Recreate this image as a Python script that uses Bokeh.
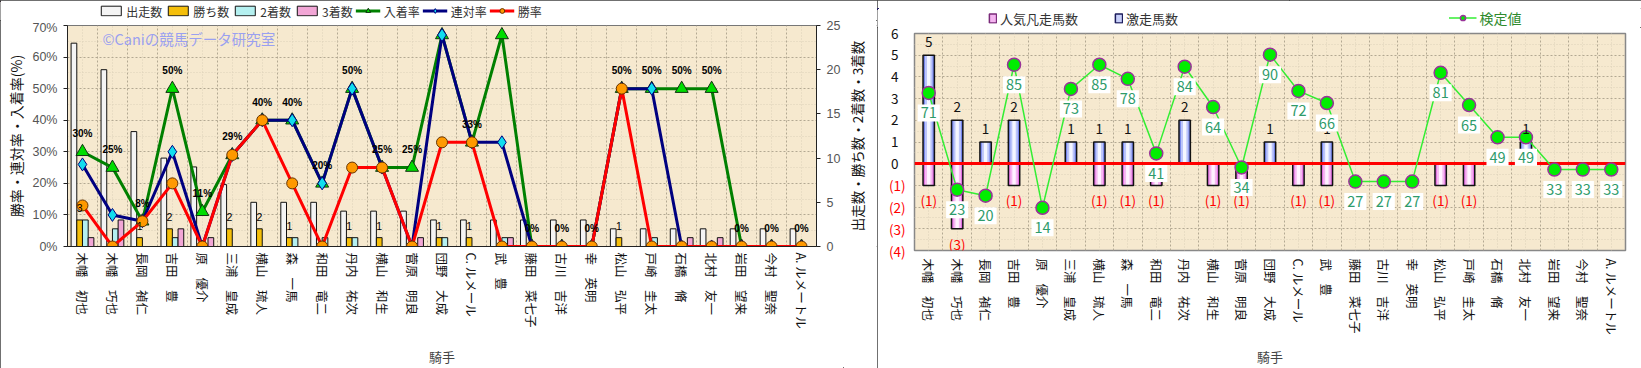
from math import pi
from bokeh.plotting import figure
from bokeh.models import (ColumnDataSource, Range1d, LinearAxis, FixedTicker, Legend, LegendItem,
                          LabelSet, Label, PrintfTickFormatter)
from bokeh.layouts import row, column
from bokeh.transform import dodge
from bokeh.core.properties import value
from bokeh.embed import file_html
from bokeh.resources import INLINE

# ---------------- data ----------------
jockeys = ["木幡\u3000初也", "木幡\u3000巧也", "長岡\u3000禎仁", "吉田\u3000豊", "原\u3000優介",
           "三浦\u3000皇成", "横山\u3000琉人", "森\u3000一馬", "和田\u3000竜二", "丹内\u3000祐次",
           "横山\u3000和生", "菅原\u3000明良", "団野\u3000大成", "C. ルメール", "武\u3000豊",
           "藤田\u3000菜七子", "古川\u3000吉洋", "幸\u3000英明", "松山\u3000弘平", "戸崎\u3000圭太",
           "石橋\u3000脩", "北村\u3000友一", "岩田\u3000望来", "今村\u3000聖奈", "A. ルメートル"]
starts = [23, 20, 13, 10, 9, 7, 5, 5, 5, 4, 4, 4, 3, 3, 3, 3, 3, 3, 2, 2, 2, 2, 2, 2, 2]
wins = [3, 0, 1, 2, 0, 2, 2, 1, 0, 1, 1, 0, 1, 1, 0, 0, 0, 0, 1, 0, 0, 0, 0, 0, 0]
seconds = [3, 2, 0, 1, 0, 0, 0, 1, 1, 1, 0, 0, 1, 0, 1, 0, 0, 0, 0, 1, 0, 0, 0, 0, 0]
thirds = [1, 3, 0, 2, 1, 0, 0, 0, 0, 0, 0, 1, 0, 0, 1, 0, 0, 0, 0, 0, 1, 1, 0, 0, 0]
win_rate = [13, 0, 8, 20, 0, 29, 40, 20, 0, 25, 25, 0, 33, 33, 0, 0, 0, 0, 50, 0, 0, 0, 0, 0, 0]
rentai_rate = [26, 10, 8, 30, 0, 29, 40, 40, 20, 50, 25, 0, 67, 33, 33, 0, 0, 0, 50, 50, 0, 0, 0, 0, 0]
place_rate = [30, 25, 8, 50, 11, 29, 40, 40, 20, 50, 25, 25, 67, 33, 67, 0, 0, 0, 50, 50, 50, 50, 0, 0, 0]

gekisou = [5, 2, 1, 2, 0, 1, 1, 1, 0, 2, 0, 0, 1, 0, 1, 0, 0, 0, 0, 0, 0, 1, 0, 0, 0]   # 激走馬数
bonsou = [1, 3, 0, 1, 0, 0, 1, 1, 1, 0, 1, 1, 0, 1, 1, 0, 0, 0, 1, 1, 0, 0, 0, 0, 0]    # 人気凡走馬数
kentei = [71, 23, 20, 85, 14, 73, 85, 78, 41, 84, 64, 34, 90, 72, 66, 27, 27, 27, 81, 65, 49, 49, 33, 33, 33]

pct_ticks = [0, 10, 20, 30, 40, 50, 60, 70]
cnt_ticks = [0, 5, 10, 15, 20, 25]
pos_ticks = [6, 5, 4, 3, 2, 1, 0]
pos_tick_labels = ["6", "5", "4", "3", "2", "1", "0"]
neg_ticks = [-1, -2, -3, -4]
neg_tick_labels = ["(1)", "(2)", "(3)", "(4)"]

# ---------------- common ----------------
JP = "Noto Sans CJK JP"
n = len(jockeys)
xs = list(range(1, n + 1))
name_map = {x: j for x, j in zip(xs, jockeys)}
BG = "#F6E9CF"
GRID = "#B3A892"
MINOR = "#DCD0B8"

ST = dict(fill_color="#F4F4F4", line_color="#111111", line_width=1)
WN = dict(fill_color="#F5BF0A", line_color="#111111", line_width=1)
SC = dict(fill_color="#B4F0F0", line_color="#111111", line_width=1)
TH = dict(fill_color="#F2A6D6", line_color="#111111", line_width=1)
PL_L = dict(line_color="#008000", line_width=3)
PL_M = dict(marker="triangle", fill_color="#00DD00", line_color="#113311", line_width=1)
RT_L = dict(line_color="#000080", line_width=3)
RT_M = dict(marker="diamond", fill_color="#11DDEE", line_color="#000080", line_width=1)
WR_L = dict(line_color="#FF0000", line_width=3)
WR_M = dict(marker="circle", fill_color="#FF9900", line_color="#663300", line_width=1)
K_L = dict(line_color="#33EE33", line_width=1.5)
K_M = dict(marker="circle", fill_color="#00EE00", line_color="#993399", line_width=1.5)


def style_grid(p, xt, yt, xm, ym):
    p.xgrid.ticker = FixedTicker(ticks=xt, minor_ticks=xm)
    p.ygrid.ticker = FixedTicker(ticks=yt, minor_ticks=ym)
    for g in (p.xgrid, p.ygrid):
        g.grid_line_color = GRID
        g.grid_line_dash = "2 2"
        g.grid_line_width = 1
        g.minor_grid_line_color = MINOR
        g.minor_grid_line_dash = "1 2"


def style_xaxis(ax, label_standoff, axis_label_standoff):
    ax.ticker = FixedTicker(ticks=xs)
    ax.major_label_overrides = name_map
    ax.major_label_orientation = "vertical"
    ax.major_label_text_font = JP
    ax.major_label_text_font_size = "12.5px"
    ax.major_label_text_color = "#111111"
    ax.major_tick_line_color = None
    ax.major_tick_out = 0
    ax.major_tick_in = 0
    ax.minor_tick_line_color = None
    ax.minor_tick_out = 0
    ax.major_label_standoff = label_standoff
    ax.axis_label = "騎手"
    ax.axis_label_text_font = JP
    ax.axis_label_text_font_size = "13px"
    ax.axis_label_text_font_style = "normal"
    ax.axis_label_text_color = "#444444"
    ax.axis_label_standoff = axis_label_standoff


def style_yaxis(ax):
    ax.major_label_text_font = "Liberation Sans"
    ax.major_label_text_font_size = "12.5px"
    ax.major_label_text_color = "#555555"
    ax.axis_line_color = "#222222"
    ax.major_tick_line_color = "#222222"
    ax.major_tick_out = 4
    ax.major_tick_in = 0
    ax.minor_tick_line_color = None
    ax.minor_tick_out = 0
    ax.major_label_standoff = 6


def strip(width, height, left=0, right=0, top=0, bottom=0):
    # plain white strip holding legends / titles outside the plot frames;
    # its ranges lie far away from the data so only legend keys are drawn
    return figure(width=width, height=height, x_range=Range1d(100, 101),
                  y_range=Range1d(-100, -99), x_axis_type=None, y_axis_type=None,
                  output_backend="svg", toolbar_location=None, min_border_left=left,
                  min_border_right=right, min_border_top=top, min_border_bottom=bottom,
                  outline_line_color=None, background_fill_color="white",
                  border_fill_color="white")


def make_legend(items, font_size, color, spacing, gw, gh):
    return Legend(items=items, orientation="horizontal", location="center", glyph_width=gw,
                  glyph_height=gh, label_height=gh, label_standoff=3, spacing=spacing,
                  padding=0, margin=0, border_line_alpha=0, background_fill_alpha=0,
                  label_text_font=JP, label_text_font_size=font_size, label_text_color=color)


# ================= left chart =================
src = ColumnDataSource(dict(x=xs, starts=starts, wins=wins, seconds=seconds, thirds=thirds,
                            win=win_rate, rentai=rentai_rate, place=place_rate,
                            place_txt=[f"{v}%" for v in place_rate]))
wsrc = ColumnDataSource(dict(x=[x for x, w in zip(xs, wins) if w > 0],
                             wins=[w for w in wins if w > 0],
                             txt=[str(w) for w in wins if w > 0]))

p1 = figure(width=843, height=348, x_range=Range1d(0.5, n + 0.5), y_range=Range1d(0, 70),
            output_backend="svg", toolbar_location=None,
            min_border_left=67, min_border_right=26, min_border_top=5, min_border_bottom=122,
            background_fill_color=BG, border_fill_color="white", outline_line_color="#777777")
p1.extra_y_ranges = {"cnt": Range1d(0, 25)}
style_grid(p1, [i + 0.5 for i in range(n + 1)], pct_ticks, xs, [5, 15, 25, 35, 45, 55, 65])

style_xaxis(p1.xaxis[0], 6, 15)
p1.xaxis.axis_line_color = "#222222"

ya = p1.yaxis[0]
ya.ticker = FixedTicker(ticks=pct_ticks)
ya.formatter = PrintfTickFormatter(format="%d%%")
style_yaxis(ya)
ya.axis_label = "勝率・連対率・入着率(%)"
ya.axis_label_text_font = JP
ya.axis_label_text_font_size = "14px"
ya.axis_label_text_font_style = "normal"
ya.axis_label_text_color = "#111111"
ya.axis_label_standoff = 3

ax_r = LinearAxis(y_range_name="cnt", ticker=FixedTicker(ticks=cnt_ticks))
style_yaxis(ax_r)
p1.add_layout(ax_r, "right")

bw = 0.19
p1.vbar(x=dodge("x", -0.285, range=p1.x_range), top="starts", width=bw, source=src,
        y_range_name="cnt", **ST)
p1.vbar(x=dodge("x", -0.095, range=p1.x_range), top="wins", width=bw, source=src,
        y_range_name="cnt", **WN)
p1.vbar(x=dodge("x", 0.095, range=p1.x_range), top="seconds", width=bw, source=src,
        y_range_name="cnt", **SC)
p1.vbar(x=dodge("x", 0.285, range=p1.x_range), top="thirds", width=bw, source=src,
        y_range_name="cnt", **TH)

p1.line("x", "place", source=src, **PL_L)
p1.scatter("x", "place", source=src, size=13, **PL_M)
p1.line("x", "rentai", source=src, **RT_L)
p1.scatter("x", "rentai", source=src, size=13, **RT_M)
p1.line("x", "win", source=src, **WR_L)
p1.scatter("x", "win", source=src, size=11, **WR_M)

p1.add_layout(LabelSet(x="x", y="place", text="place_txt", source=src, y_offset=18,
                       text_align="center", text_baseline="middle",
                       text_font=value("Liberation Sans"),
                       text_font_size="10px", text_font_style="bold", text_color="#000000"))
p1.add_layout(LabelSet(x=dodge("x", -0.095, range=p1.x_range), y="wins", text="txt", source=wsrc,
                       y_range_name="cnt", y_offset=12, text_align="center", text_baseline="middle",
                       text_font=value("Liberation Sans"), text_font_size="10.5px",
                       text_color="#000000"))

p1.add_layout(Label(x=35, y=208, x_units="screen", y_units="screen",
                    text="©Caniの競馬データ研究室", text_font=JP, text_font_size="14.5px",
                    text_color="#9AA0F0", text_baseline="middle"))

# right-hand axis title (a left-axis label of a narrow strip, so it reads bottom to top)
ls1 = strip(34, 348, left=3, top=5, bottom=122)
t_ax = LinearAxis(ticker=FixedTicker(ticks=[]), axis_line_color=None,
                  major_tick_line_color=None, minor_tick_line_color=None,
                  major_tick_out=0, minor_tick_out=0, major_label_standoff=0)
t_ax.axis_label = "出走数・勝ち数・2着数・3着数"
t_ax.axis_label_text_font = JP
t_ax.axis_label_text_font_size = "13.5px"
t_ax.axis_label_text_font_style = "normal"
t_ax.axis_label_text_color = "#111111"
t_ax.axis_label_standoff = 0
ls1.add_layout(t_ax, "left")

# legend strip (keys reuse the real data, kept outside the strip's visible range)
lf1 = strip(877, 20, right=237, top=1)
k_st = lf1.vbar(x="x", top="starts", width=0.1, source=src, **ST)
k_wn = lf1.vbar(x="x", top="wins", width=0.1, source=src, **WN)
k_sc = lf1.vbar(x="x", top="seconds", width=0.1, source=src, **SC)
k_th = lf1.vbar(x="x", top="thirds", width=0.1, source=src, **TH)
k_pl = [lf1.line("x", "place", source=src, **PL_L), lf1.scatter("x", "place", source=src, size=9, **PL_M)]
k_rt = [lf1.line("x", "rentai", source=src, **RT_L), lf1.scatter("x", "rentai", source=src, size=9, **RT_M)]
k_wr = [lf1.line("x", "win", source=src, **WR_L), lf1.scatter("x", "win", source=src, size=9, **WR_M)]
lf1.add_layout(make_legend([
    LegendItem(label="出走数", renderers=[k_st]),
    LegendItem(label="勝ち数", renderers=[k_wn]),
    LegendItem(label="2着数", renderers=[k_sc]),
    LegendItem(label="3着数", renderers=[k_th]),
    LegendItem(label="入着率", renderers=k_pl),
    LegendItem(label="連対率", renderers=k_rt),
    LegendItem(label="勝率", renderers=k_wr),
], "12px", "#333333", 3, 25, 12))

# ================= right chart =================
neg = [-v for v in bonsou]
rsrc = ColumnDataSource(dict(x=xs, gek=gekisou, neg=neg, kentei=kentei))
gsrc = ColumnDataSource(dict(x=[x for x, g in zip(xs, gekisou) if g > 0],
                             g=[g for g in gekisou if g > 0],
                             txt=[str(g) for g in gekisou if g > 0]))
bsrc = ColumnDataSource(dict(x=[x for x, b in zip(xs, bonsou) if b > 0],
                             b=[-b for b in bonsou if b > 0],
                             txt=[f"({b})" for b in bonsou if b > 0]))

p2 = figure(width=764, height=341, x_range=Range1d(0.5, n + 0.5), y_range=Range1d(-4, 6),
            output_backend="svg", toolbar_location=None,
            min_border_left=37, min_border_right=16, min_border_top=6, min_border_bottom=118,
            background_fill_color=BG, border_fill_color="white", outline_line_color="#888888",
            outline_line_width=1.5)
p2.extra_y_ranges = {"score": Range1d(-7.2, 100.5)}
p2.yaxis.visible = False
style_grid(p2, [i + 0.5 for i in range(n + 1)], pos_ticks + neg_ticks, xs,
           [5.5, 4.5, 3.5, 2.5, 1.5, 0.5, -0.5, -1.5, -2.5, -3.5])
style_xaxis(p2.xaxis[0], 8, 9)
p2.xaxis.axis_line_color = None

# negative ticks (red) nearest the frame, positive ticks (black) pulled back over them
for ticks, labels, color, standoff in ((neg_ticks, neg_tick_labels, "#FF0000", 9),
                                       (pos_ticks, pos_tick_labels, "#111111", -13)):
    ax = LinearAxis(ticker=FixedTicker(ticks=ticks),
                    major_label_overrides={t: s for t, s in zip(ticks, labels)})
    ax.major_label_text_font = JP
    ax.major_label_text_font_size = "13.5px"
    ax.major_label_text_color = color
    ax.axis_line_color = None
    ax.major_tick_line_color = None
    ax.minor_tick_line_color = None
    ax.major_tick_out = 0
    ax.major_tick_in = 0
    ax.minor_tick_out = 0
    ax.major_label_standoff = standoff
    p2.add_layout(ax, "left")

PK = [dict(fill_color="#E070E0"), dict(fill_color="#F6B8F2"), dict(fill_color="#FFF2FF")]
BL = [dict(fill_color="#7585EC"), dict(fill_color="#BCC5FA"), dict(fill_color="#F4F6FF")]
bw2 = 0.4
for frac, st in zip((1.0, 0.66, 0.3), PK):
    p2.vbar(x="x", top=0, bottom="neg", width=bw2 * frac, source=rsrc, line_color=None, **st)
p2.vbar(x="x", top=0, bottom="neg", width=bw2, source=rsrc, fill_alpha=0,
        line_color="#111111", line_width=1.5)
for frac, st in zip((1.0, 0.66, 0.3), BL):
    p2.vbar(x="x", top="gek", bottom=0, width=bw2 * frac, source=rsrc, line_color=None, **st)
p2.vbar(x="x", top="gek", bottom=0, width=bw2, source=rsrc, fill_alpha=0,
        line_color="#111111", line_width=1.5)

p2.hspan(y=[0], line_color="#FF0000", line_width=3)

p2.line("x", "kentei", source=rsrc, y_range_name="score", **K_L)
p2.scatter("x", "kentei", source=rsrc, y_range_name="score", size=13, **K_M)

p2.add_layout(LabelSet(x="x", y="g", text="txt", source=gsrc, y_offset=13, text_align="center",
                       text_baseline="middle", text_font=value(JP), text_font_size="13.5px",
                       text_color="#111111"))
p2.add_layout(LabelSet(x="x", y="b", text="txt", source=bsrc, y_offset=-15, text_align="center",
                       text_baseline="middle", text_font=value(JP), text_font_size="13.5px",
                       text_color="#FF0000"))

lkw = {}
if "padding" in Label.properties():
    lkw["padding"] = 3
for x, k in zip(xs, kentei):
    p2.add_layout(Label(x=x, y=k, y_range_name="score", text=str(k), y_offset=-20,
                        text_align="center", text_baseline="middle", text_font=JP,
                        text_font_size="14.5px", text_color="#2E9B6A",
                        background_fill_color="white", background_fill_alpha=1.0, **lkw))

# legend strips for the right chart
sa = strip(412, 27, right=0, top=8)
k_pk = sa.vbar(x="x", top="neg", width=0.1, source=rsrc, fill_color="#F4B4F0",
               line_color="#7A2A7A", line_width=1.5)
k_bl = sa.vbar(x="x", top="gek", width=0.1, source=rsrc, fill_color="#C8D0FA",
               line_color="#1A1A5A", line_width=1.5)
sa.add_layout(make_legend([
    LegendItem(label="人気凡走馬数", renderers=[k_pk]),
    LegendItem(label="激走馬数", renderers=[k_bl]),
], "13px", "#333333", 36, 9, 11))
sb = strip(352, 27, left=40, right=0, top=7)
k_k = [sb.line("x", "kentei", source=rsrc, **K_L), sb.scatter("x", "kentei", source=rsrc, size=9, **K_M)]
sb.add_layout(make_legend([LegendItem(label="検定値", renderers=k_k)],
                          "14px", "#2E8B2E", 10, 28, 13))

c1 = column(lf1, row(p1, ls1, spacing=0), spacing=0)
c2 = column(row(sa, sb, spacing=0), p2, spacing=0)
c1.styles = {"outline": "1px solid #404040", "outline-offset": "-1px"}
c2.styles = {"outline": "1px solid #404040", "outline-offset": "-1px"}
layout = row(c1, c2, spacing=0)
open("out.html", "w").write(file_html(layout, INLINE))
